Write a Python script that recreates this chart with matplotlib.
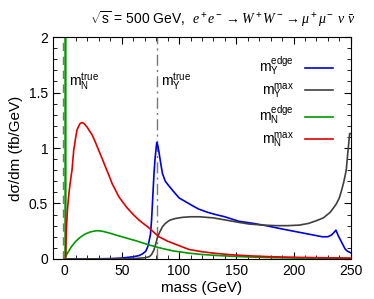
import matplotlib
matplotlib.use("Agg")
import matplotlib.pyplot as plt
from matplotlib.ticker import MultipleLocator

plt.rcParams["font.family"] = ["Liberation Sans", "DejaVu Sans"]
plt.rcParams["mathtext.fontset"] = "custom"
plt.rcParams["mathtext.rm"] = "Liberation Sans"
plt.rcParams["mathtext.sf"] = "Liberation Sans"
plt.rcParams["mathtext.it"] = "Liberation Serif:italic"
plt.rcParams["mathtext.bf"] = "Liberation Sans:bold"

# true masses (GeV)
m_n_true = 0.0
m_y_true = 80.4

# m_Y^edge (blue)
y_edge_mass = [0, 20, 40, 50, 56, 60, 65, 68, 71, 73, 75, 76, 77, 78, 79, 80, 80.5, 81.5, 82.5, 84, 85.5,
               88, 91, 95, 100, 105, 110, 117, 125, 132, 140, 152, 165, 176, 190, 205, 215, 225, 230,
               233, 235, 237, 239, 241, 243, 245, 247, 250]
y_edge_val = [0.0, 0.0, 0.003, 0.008, 0.015, 0.02, 0.03, 0.045, 0.07, 0.12, 0.22, 0.35, 0.55, 0.75, 0.9, 1.0,
              1.05, 1.02, 0.96, 0.86, 0.77, 0.70, 0.66, 0.61, 0.55, 0.52, 0.49, 0.45, 0.42, 0.40, 0.38,
              0.34, 0.32, 0.30, 0.27, 0.24, 0.22, 0.20, 0.20, 0.215, 0.235, 0.26, 0.21, 0.17, 0.13, 0.09,
              0.07, 0.055]

# m_Y^max (gray)
y_max_mass = [0, 40, 60, 70, 74, 76, 78, 79.5, 81, 83, 85.5, 88, 92, 97, 103, 110, 118, 130, 141, 152,
              161, 173, 185, 195, 205, 213, 220, 226, 232, 237, 240, 242, 244, 246, 247.5, 249, 250]
y_max_val = [0.0, 0.0, 0.003, 0.01, 0.02, 0.04, 0.08, 0.13, 0.19, 0.24, 0.29, 0.32, 0.35, 0.365, 0.375,
             0.38, 0.38, 0.37, 0.35, 0.33, 0.315, 0.305, 0.30, 0.30, 0.305, 0.32, 0.345, 0.37, 0.42, 0.49,
             0.55, 0.62, 0.70, 0.80, 0.97, 1.13, 1.13]

# m_N^edge (green), with the spike in the first bin
n_edge_mass = [0.8, 0.8, 0.8, 3, 6, 9.4, 13, 18, 23, 28.4, 33, 38.6, 45, 54.7, 62, 73.7, 85, 95, 108.8, 120,
               135, 150, 161, 180, 200, 220, 250]
n_edge_val = [0.0, 4.0, 0.02, 0.06, 0.11, 0.155, 0.19, 0.225, 0.245, 0.255, 0.25, 0.235, 0.215, 0.186,
              0.165, 0.126, 0.095, 0.072, 0.052, 0.04, 0.03, 0.022, 0.018, 0.012, 0.008, 0.005, 0.003]

# m_N^max (red)
n_max_mass = [0.8, 1.5, 2.5, 3.5, 4.5, 5.5, 6.5, 8, 9.5, 10.8, 12, 13.5, 15.2, 17, 19.6, 22, 24, 27, 29.8,
              33, 35.7, 38.5, 41.5, 44.5, 47.4, 51, 54.7, 60, 65, 70, 73.7, 78, 82.5, 90, 100, 108.8, 120,
              132, 145, 161, 180, 205, 230, 250]
n_max_val = [0.0, 0.25, 0.44, 0.56, 0.65, 0.73, 0.80, 0.98, 1.08, 1.16, 1.19, 1.22, 1.23, 1.22, 1.19,
             1.15, 1.12, 1.05, 0.98, 0.90, 0.83, 0.76, 0.68, 0.62, 0.56, 0.51, 0.46, 0.40, 0.35, 0.31,
             0.28, 0.24, 0.20, 0.16, 0.12, 0.085, 0.065, 0.05, 0.038, 0.028, 0.02, 0.014, 0.01, 0.008]

fig = plt.figure(figsize=(3.74, 2.99), dpi=100)
ax = fig.add_axes([0.142, 0.134, 0.796, 0.742])

ax.axvline(m_n_true - 1.2, color="#777777", lw=1.0, ls=(0, (6, 4)))
ax.axvline(m_y_true, color="#777777", lw=1.0, ls=(0, (8, 3, 1.5, 3)))

ax.plot(y_edge_mass, y_edge_val, color="#0000e0", lw=1.2, label=r"$\mathrm{m}_{\mathrm{Y}}^{\mathrm{edge}}$")
ax.plot(y_max_mass, y_max_val, color="#404040", lw=1.2, label=r"$\mathrm{m}_{\mathrm{Y}}^{\mathrm{max}}$")
ax.plot(n_edge_mass, n_edge_val, color="#009900", lw=1.2, label=r"$\mathrm{m}_{\mathrm{N}}^{\mathrm{edge}}$")
ax.plot(n_max_mass, n_max_val, color="#e00000", lw=1.2, label=r"$\mathrm{m}_{\mathrm{N}}^{\mathrm{max}}$")

ax.text(3.5, 1.6, r"$\mathrm{m}_{\mathrm{N}}^{\mathrm{true}}$", fontsize=10, va="center", ha="left")
ax.text(84, 1.6, r"$\mathrm{m}_{\mathrm{Y}}^{\mathrm{true}}$", fontsize=10, va="center", ha="left")

ax.set_xlim(-10, 250)
ax.set_ylim(0, 2)
ax.xaxis.set_major_locator(MultipleLocator(50))
ax.xaxis.set_minor_locator(MultipleLocator(10))
ax.yaxis.set_major_locator(MultipleLocator(0.5))
ax.yaxis.set_minor_locator(MultipleLocator(0.1))
ax.yaxis.set_major_formatter(plt.FuncFormatter(lambda v, p: "%g" % v))
ax.tick_params(which="both", direction="in", top=True, right=True, labelsize=10)
ax.tick_params(which="major", length=5)
ax.tick_params(which="minor", length=3)

ax.set_xlabel("mass (GeV)", fontsize=11, labelpad=2)
ax.set_ylabel("dσ/dm (fb/GeV)", fontsize=11, labelpad=4)

ax.legend(loc="upper right", frameon=False, markerfirst=False, fontsize=10,
          handlelength=2.0, labelspacing=0.25, borderaxespad=0.9)

fig.text(0.24, 0.935, r"$\sqrt{\mathrm{s}}$ = 500 GeV,  $e^+e^-\rightarrow W^+W^-\rightarrow\mu^+\mu^-\ \nu\ \bar{\nu}$",
         fontsize=10, ha="left", va="center")

fig.savefig("out.png", dpi=100)
